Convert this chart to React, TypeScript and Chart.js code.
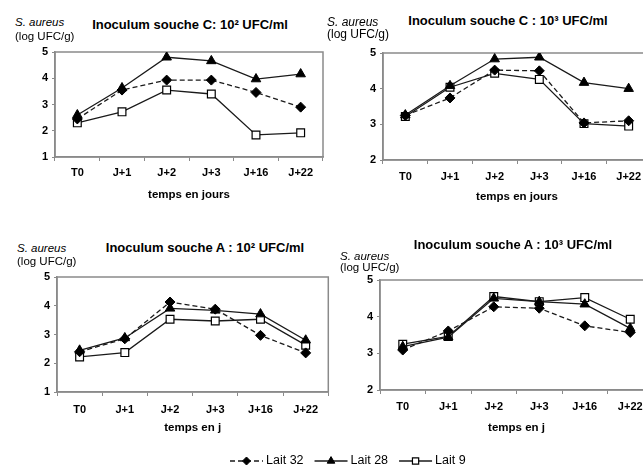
import React, { useEffect, useRef } from 'react';
import { Chart, registerables } from 'chart.js';
import { drawPoint } from 'chart.js/helpers';

Chart.register(...registerables);

const FONT = "'Liberation Sans', Arial, Helvetica, sans-serif";
Chart.defaults.font.family = FONT;

// ---------- data ----------
const categories = ['T0', 'J+1', 'J+2', 'J+3', 'J+16', 'J+22'];
const seriesNames = ['Lait 32', 'Lait 28', 'Lait 9'];

// Inoculum souche C : 10² UFC/ml
const c2Lait32 = [2.45, 3.55, 3.93, 3.93, 3.46, 2.9];
const c2Lait28 = [2.6, 3.63, 4.8, 4.66, 3.97, 4.16];
const c2Lait9 = [2.3, 2.72, 3.55, 3.4, 1.84, 1.92];

// Inoculum souche C : 10³ UFC/ml
const c3Lait32 = [3.25, 3.74, 4.52, 4.5, 3.04, 3.1];
const c3Lait28 = [3.26, 4.08, 4.83, 4.88, 4.17, 4.0];
const c3Lait9 = [3.22, 4.04, 4.43, 4.26, 3.02, 2.95];

// Inoculum souche A : 10² UFC/ml
const a2Lait32 = [2.4, 2.85, 4.13, 3.88, 2.97, 2.36];
const a2Lait28 = [2.45, 2.88, 3.91, 3.84, 3.71, 2.8];
const a2Lait9 = [2.22, 2.37, 3.53, 3.47, 3.53, 2.63];

// Inoculum souche A : 10³ UFC/ml
const a3Lait32 = [3.09, 3.61, 4.27, 4.23, 3.75, 3.57];
const a3Lait28 = [3.18, 3.44, 4.5, 4.41, 4.34, 3.68];
const a3Lait9 = [3.25, 3.46, 4.55, 4.41, 4.52, 3.93];

const yRangeLow = [1, 5];
const yRangeHigh = [2, 5];

const titles = [
  'Inoculum souche C: 10² UFC/ml',
  'Inoculum souche C : 10³ UFC/ml',
  'Inoculum souche A : 10² UFC/ml',
  'Inoculum souche A : 10³ UFC/ml',
];
const xTitles = ['temps en jours', 'temps en jours', 'temps en j', 'temps en j'];
const yLabel1 = 'S. aureus';
const yLabel2 = '(log UFC/g)';

// ---------- layout ----------
type Panel = {
  s32: number[]; s28: number[]; s9: number[];
  range: number[];
  title: string; xTitle: string;
  box: { left: number; top: number; w: number; h: number };
  pad: { left: number; right: number; top: number; bottom: number };
  xTickPad: number; xTitlePad: number;
  titlePos: { x: number; y: number };
  yl: { x: number; y1: number; y2: number; size: number };
};

const panels: Panel[] = [
  {
    s32: c2Lait32, s28: c2Lait28, s9: c2Lait9, range: yRangeLow,
    title: titles[0], xTitle: xTitles[0],
    box: { left: 0, top: 40, w: 330, h: 172 },
    pad: { left: 8, right: 7, top: 12, bottom: 5 },
    xTickPad: 5, xTitlePad: 5,
    titlePos: { x: 190, y: 24 },
    yl: { x: 15, y1: 23, y2: 37, size: 11.5 },
  },
  {
    s32: c3Lait32, s28: c3Lait28, s9: c3Lait9, range: yRangeHigh,
    title: titles[1], xTitle: xTitles[1],
    box: { left: 330, top: 40, w: 330, h: 175 },
    pad: { left: 6, right: 9, top: 13, bottom: 5 },
    xTickPad: 6, xTitlePad: 6,
    titlePos: { x: 508, y: 20 },
    yl: { x: 327, y1: 22, y2: 34, size: 12 },
  },
  {
    s32: a2Lait32, s28: a2Lait28, s9: a2Lait9, range: yRangeLow,
    title: titles[2], xTitle: xTitles[2],
    box: { left: 0, top: 265, w: 335, h: 180 },
    pad: { left: 10, right: 6, top: 12, bottom: 3 },
    xTickPad: 7, xTitlePad: 7,
    titlePos: { x: 205, y: 247 },
    yl: { x: 17, y1: 249, y2: 262, size: 11.5 },
  },
  {
    s32: a3Lait32, s28: a3Lait28, s9: a3Lait9, range: yRangeHigh,
    title: titles[3], xTitle: xTitles[3],
    box: { left: 330, top: 268, w: 330, h: 177 },
    pad: { left: 3, right: 7, top: 12, bottom: 5 },
    xTickPad: 6, xTitlePad: 5,
    titlePos: { x: 513, y: 244 },
    yl: { x: 340, y1: 257, y2: 268, size: 11.5 },
  },
];

const AXIS = '#8a8a8a';
const LINE = '#1a1a1a';

const boxPlugin = {
  id: 'plotBox',
  beforeDatasetsDraw(chart: any) {
    const { ctx, chartArea: a } = chart;
    ctx.save();
    ctx.strokeStyle = AXIS;
    ctx.lineWidth = 1.5;
    ctx.strokeRect(a.left, a.top, a.right - a.left, a.bottom - a.top);
    ctx.restore();
  },
};

function makeDatasets(s32: number[], s28: number[], s9: number[]) {
  return [
    {
      label: seriesNames[0], data: s32, borderColor: LINE, borderWidth: 1.3, borderDash: [5, 3],
      pointStyle: 'rectRot', pointRadius: 5, pointBackgroundColor: '#000', pointBorderColor: '#000',
      pointBorderWidth: 1, tension: 0, fill: false,
    },
    {
      label: seriesNames[1], data: s28, borderColor: LINE, borderWidth: 1.3, borderDash: [],
      pointStyle: 'triangle', pointRadius: 5.5, pointBackgroundColor: '#000', pointBorderColor: '#000',
      pointBorderWidth: 1, tension: 0, fill: false,
    },
    {
      label: seriesNames[2], data: s9, borderColor: LINE, borderWidth: 1.3, borderDash: [],
      pointStyle: 'rect', pointRadius: 5.5, pointBackgroundColor: '#fff', pointBorderColor: '#000',
      pointBorderWidth: 1.2, tension: 0, fill: false,
    },
  ];
}

function makeChart(canvas: HTMLCanvasElement, p: Panel) {
  return new Chart(canvas, {
    type: 'line',
    data: { labels: categories, datasets: makeDatasets(p.s32, p.s28, p.s9) as any },
    options: {
      animation: false,
      responsive: false,
      maintainAspectRatio: false,
      layout: { padding: p.pad },
      plugins: { legend: { display: false }, tooltip: { enabled: false }, title: { display: false } },
      scales: {
        x: {
          type: 'category',
          offset: true,
          grid: { display: true, offset: true, drawOnChartArea: false, drawTicks: true, tickLength: 4, color: AXIS, lineWidth: 1 },
          border: { display: true, color: AXIS, width: 1.5 },
          ticks: { color: '#000', font: { size: 11, weight: 'bold' }, padding: p.xTickPad, maxRotation: 0, autoSkip: false },
          title: { display: true, text: p.xTitle, color: '#000', font: { size: 11.5, weight: 'bold' }, padding: { top: 0, bottom: p.xTitlePad } },
          afterFit: (s: any) => { s.height = 50; },
        },
        y: {
          min: p.range[0], max: p.range[1],
          grid: { display: true, drawOnChartArea: false, drawTicks: true, tickLength: 3, color: AXIS, lineWidth: 1 },
          border: { display: true, color: AXIS, width: 1.5 },
          ticks: { stepSize: 1, color: '#000', font: { size: 11, weight: 'bold' }, padding: 4 },
          afterFit: (s: any) => { s.width = 47; },
        },
      },
    } as any,
    plugins: [boxPlugin],
  });
}

const legendPlugin = {
  id: 'lineLegend',
  afterDraw(chart: any) {
    const ctx = chart.ctx as CanvasRenderingContext2D;
    const y = 11;
    let x = 230;
    const lineLen = 33;
    ctx.save();
    ctx.font = `12.5px ${FONT}`;
    ctx.textBaseline = 'middle';
    chart.data.datasets.forEach((ds: any) => {
      ctx.strokeStyle = ds.borderColor;
      ctx.lineWidth = ds.borderWidth;
      ctx.setLineDash(ds.borderDash || []);
      ctx.beginPath();
      ctx.moveTo(x, y);
      ctx.lineTo(x + lineLen, y);
      ctx.stroke();
      ctx.setLineDash([]);
      ctx.fillStyle = ds.pointBackgroundColor;
      ctx.strokeStyle = ds.pointBorderColor;
      ctx.lineWidth = ds.pointBorderWidth;
      drawPoint(ctx, { pointStyle: ds.pointStyle, radius: ds.pointRadius * 0.8, borderWidth: ds.pointBorderWidth, rotation: 0 } as any, x + lineLen / 2, y);
      x += lineLen + 3;
      ctx.fillStyle = '#000';
      ctx.fillText(ds.label, x, y);
      x += ctx.measureText(ds.label).width + 11;
    });
    ctx.restore();
  },
};

function makeLegend(canvas: HTMLCanvasElement) {
  return new Chart(canvas, {
    type: 'line',
    data: { labels: [], datasets: makeDatasets([], [], []) as any },
    options: {
      animation: false,
      responsive: false,
      maintainAspectRatio: false,
      plugins: { legend: { display: false }, tooltip: { enabled: false } },
      scales: { x: { display: false }, y: { display: false } },
    } as any,
    plugins: [legendPlugin],
  });
}

export default function App() {
  const refs = [useRef<HTMLCanvasElement>(null), useRef<HTMLCanvasElement>(null), useRef<HTMLCanvasElement>(null), useRef<HTMLCanvasElement>(null)];
  const legendRef = useRef<HTMLCanvasElement>(null);

  useEffect(() => {
    const charts: Chart[] = [];
    panels.forEach((p, i) => {
      const c = refs[i].current;
      if (c) charts.push(makeChart(c, p));
    });
    if (legendRef.current) charts.push(makeLegend(legendRef.current));
    return () => { charts.forEach((c) => c.destroy()); };
  }, []);

  const abs = (left: number, top: number): React.CSSProperties => ({ position: 'absolute', left, top });

  return (
    <div style={{ position: 'absolute', left: 0, top: 0, width: 643, height: 466, overflow: 'hidden', background: '#fff', fontFamily: FONT, color: '#000' }}>
      {panels.map((p, i) => (
        <React.Fragment key={i}>
          <canvas
            ref={refs[i]}
            width={p.box.w}
            height={p.box.h}
            style={{ ...abs(p.box.left, p.box.top), width: p.box.w, height: p.box.h }}
          />
          <div style={{ ...abs(p.titlePos.x, p.titlePos.y), transform: 'translate(-50%, -50%)', whiteSpace: 'nowrap', fontWeight: 'bold', fontSize: 13, lineHeight: 1 }}>
            {p.title}
          </div>
          <div style={{ ...abs(p.yl.x, p.yl.y1), transform: 'translateY(-50%)', whiteSpace: 'nowrap', fontStyle: 'italic', fontSize: p.yl.size, lineHeight: 1 }}>
            {yLabel1}
          </div>
          <div style={{ ...abs(p.yl.x, p.yl.y2), transform: 'translateY(-50%)', whiteSpace: 'nowrap', fontSize: p.yl.size, lineHeight: 1 }}>
            {yLabel2}
          </div>
        </React.Fragment>
      ))}
      <canvas ref={legendRef} width={643} height={16} style={{ ...abs(0, 450), width: 643, height: 16 }} />
    </div>
  );
}
